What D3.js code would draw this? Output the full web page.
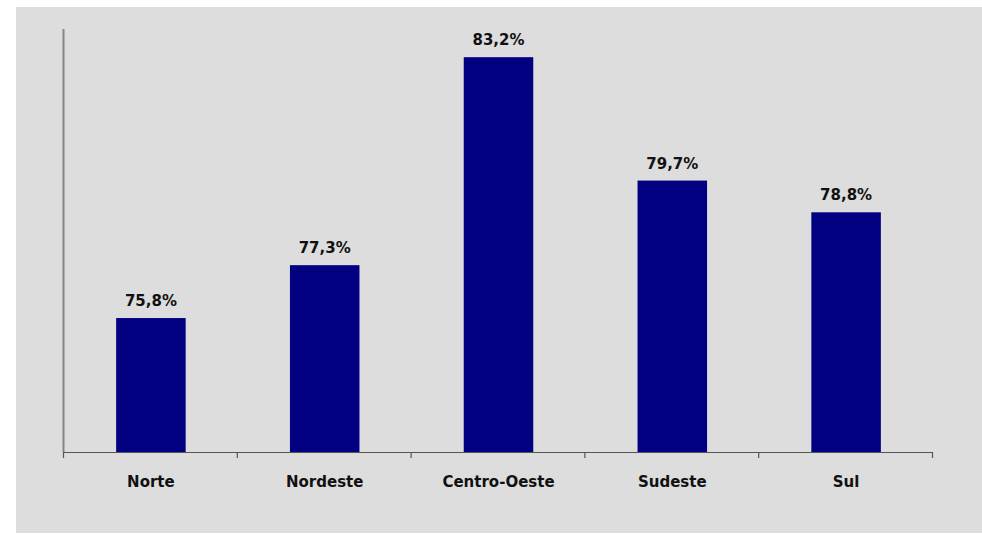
<!DOCTYPE html>
<html>
<head>
<meta charset="utf-8">
<script src="https://cdn.jsdelivr.net/npm/d3@7"></script>
<style>
  html, body { margin: 0; padding: 0; background: #ffffff; }
  svg { display: block; }
</style>
</head>
<body>
<svg id="chart" width="982" height="534"></svg>
<script>
// Regional shares (%)
const categories = ["Norte", "Nordeste", "Centro-Oeste", "Sudeste", "Sul"];
const values = [75.8, 77.3, 83.2, 79.7, 78.8];
const yDomain = [72, 84];

const svg = d3.select("#chart");
const W = 982, H = 534;

// Plot frame
svg.append("rect")
  .attr("x", 16).attr("y", 7)
  .attr("width", W - 16).attr("height", H - 8)
  .attr("fill", "#dddddd");

const plotLeft = 64, plotRight = 933, plotTop = 29, plotBase = 452;

const x = d3.scaleBand().domain(categories).range([plotLeft, plotRight]).padding(0);
const y = d3.scaleLinear().domain(yDomain).range([plotBase, plotTop]);

const barW = x.bandwidth() * 0.4;
const fontFam = "'DejaVu Sans', Verdana, sans-serif";

// Bars
svg.append("g").selectAll("rect")
  .data(categories)
  .join("rect")
  .attr("x", d => x(d) + (x.bandwidth() - barW) / 2)
  .attr("y", (d, i) => y(values[i]))
  .attr("width", barW)
  .attr("height", (d, i) => plotBase - y(values[i]))
  .attr("fill", "#000080");

// Value labels
svg.append("g").selectAll("text")
  .data(categories)
  .join("text")
  .attr("x", d => x(d) + x.bandwidth() / 2)
  .attr("y", (d, i) => y(values[i]) - 12)
  .attr("text-anchor", "middle")
  .attr("font-family", fontFam)
  .attr("font-weight", "bold")
  .attr("font-size", 15)
  .attr("fill", "#111111")
  .text((d, i) => d3.format(".1f")(values[i]).replace(".", ",") + "%");

// Y axis line
svg.append("line")
  .attr("x1", plotLeft - 0.5).attr("x2", plotLeft - 0.5)
  .attr("y1", plotTop).attr("y2", plotBase)
  .attr("stroke", "#858585").attr("stroke-width", 2);

// X axis with ticks at category boundaries
const xAxis = svg.append("g");
xAxis.append("line")
  .attr("x1", plotLeft - 1).attr("x2", plotRight)
  .attr("y1", plotBase + 0.5).attr("y2", plotBase + 0.5)
  .attr("stroke", "#555555").attr("stroke-width", 1.2);
const bounds = categories.map(d => x(d)).concat([plotRight]);
xAxis.selectAll("line.tick")
  .data(bounds)
  .join("line")
  .attr("class", "tick")
  .attr("x1", d => d - 0.5).attr("x2", d => d - 0.5)
  .attr("y1", plotBase).attr("y2", plotBase + 6)
  .attr("stroke", "#555555").attr("stroke-width", 1.2);

// Category labels
xAxis.selectAll("text")
  .data(categories)
  .join("text")
  .attr("x", d => x(d) + x.bandwidth() / 2)
  .attr("y", 487)
  .attr("text-anchor", "middle")
  .attr("font-family", fontFam)
  .attr("font-weight", "bold")
  .attr("font-size", 15)
  .attr("fill", "#111111")
  .text(d => d);
</script>
</body>
</html>
